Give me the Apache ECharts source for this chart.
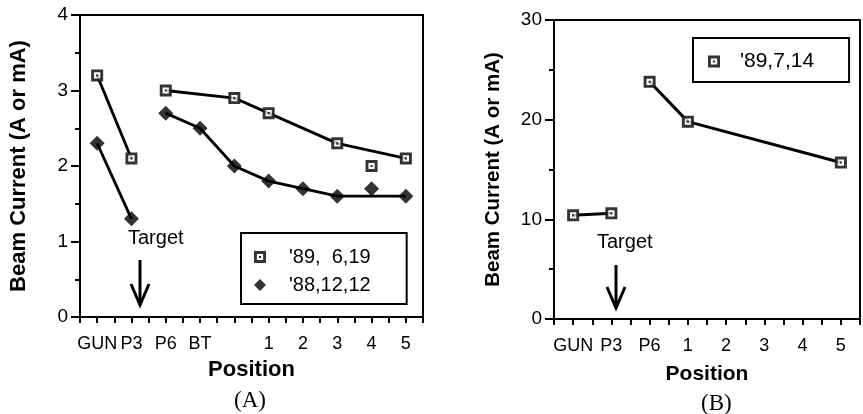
<!DOCTYPE html>
<html>
<head>
<meta charset="utf-8">
<script src="https://cdn.jsdelivr.net/npm/echarts@6/dist/echarts.min.js"></script>
<style>
  html, body { margin: 0; padding: 0; background: #fff; }
  #main { width: 863px; height: 414px; }
</style>
</head>
<body>
<div id="main"></div>
<script>
// positions along the beam line
var posA = ['GUN', 'P3', 'P6', 'BT', '', '1', '2', '3', '4', '5'];
var posB = ['GUN', 'P3', 'P6', '1', '2', '3', '4', '5'];

// beam current readings (null = not measured)
var curJun89 = [3.2, 2.1, 3.0, null, 2.9, 2.7, null, 2.3, 2.0, 2.1];
var curDec88 = [2.3, 1.3, 2.7, 2.5, 2.0, 1.8, 1.7, 1.6, 1.7, 1.6];
var curJul89 = [10.4, 10.6, 23.8, 19.8, null, null, null, 15.7];

// which points are joined by a line
var runsJun89 = [[0, 1], [2, 4, 5, 7, 9]];
var runsDec88 = [[0, 1], [2, 3, 4, 5, 6, 7, 9]];
var runsJul89 = [[0, 1], [2, 3, 7]];

// y axis ranges
var yTicksA = [0, 1, 2, 3, 4];
var yTicksB = [0, 10, 20, 30];

var FONT = 'Liberation Sans';
var boxSym = 'path://M0,0H10V10H0ZM2.4,2.4V7.6H7.6V2.4ZM4.1,4.1H5.9V5.9H4.1Z';

var myChart = echarts.init(document.getElementById('main'));

function points(vals) {
    var out = [];
    vals.forEach(function (v, i) { if (v != null) out.push([i, v]); });
    return out;
}

function lines(vals, runs, axis, width) {
    return runs.map(function (run) {
        return {
            type: 'line', xAxisIndex: axis, yAxisIndex: axis,
            data: run.map(function (i) { return [i, vals[i]]; }),
            symbol: 'none', silent: true, z: 2,
            lineStyle: { color: '#000', width: width }
        };
    });
}

function boxes(name, vals, axis) {
    return [
        { // white fill behind the open squares
            type: 'scatter', xAxisIndex: axis, yAxisIndex: axis,
            data: points(vals), symbol: 'rect', symbolSize: 11, z: 3,
            itemStyle: { color: '#fff' }, silent: true
        },
        {
            name: name, type: 'scatter', xAxisIndex: axis, yAxisIndex: axis,
            data: points(vals), symbol: boxSym, symbolSize: 12, z: 4,
            itemStyle: { color: '#000' }
        }
    ];
}

function xAxis(idx, labels) {
    return {
        gridIndex: idx, type: 'value',
        min: -0.5, max: labels.length - 0.5, interval: 0.5,
        name: 'Position', nameLocation: 'middle', nameGap: idx == 0 ? 42 : 45,
        nameTextStyle: { fontFamily: FONT, fontWeight: 'bold', fontSize: idx == 0 ? 22 : 21, color: '#000' },
        axisLine: { onZero: false, lineStyle: { color: '#000', width: 2 } },
        axisTick: { show: true, length: 6, lineStyle: { color: '#000', width: 2 } },
        splitLine: { show: false },
        axisLabel: {
            margin: 18, fontFamily: FONT, fontSize: 18, color: '#000',
            formatter: function (v) {
                return Number.isInteger(v) ? labels[v] : '';
            }
        }
    };
}

function yAxis(idx, ticks) {
    return {
        gridIndex: idx, type: 'value',
        min: ticks[0], max: ticks[ticks.length - 1], interval: ticks[1] - ticks[0],
        name: 'Beam Current (A or mA)', nameLocation: 'middle', nameGap: 50,
        nameTextStyle: { fontFamily: FONT, fontWeight: 'bold', fontSize: idx == 0 ? 22 : 20.5, color: '#000' },
        axisLine: { onZero: false, lineStyle: { color: '#000', width: 2 } },
        axisTick: { show: true, length: 9, lineStyle: { color: '#000', width: 2 } },
        minorTick: { show: true, splitNumber: 2, length: 5, lineStyle: { color: '#000', width: 2 } },
        splitLine: { show: false },
        axisLabel: { margin: 12, fontFamily: FONT, fontSize: 19, color: '#000' }
    };
}

function arrow(x, y1, y2) {
    return [
        { type: 'line', shape: { x1: x, y1: y1, x2: x, y2: y2 }, style: { stroke: '#000', lineWidth: 3 } },
        { type: 'polyline', shape: { points: [[x - 9, y2 - 21], [x, y2], [x + 9, y2 - 21]] }, style: { stroke: '#000', lineWidth: 3, fill: null } }
    ];
}

var series = [].concat(
    lines(curJun89, runsJun89, 0, 2.8),
    lines(curDec88, runsDec88, 0, 2.8),
    boxes("'89,  6,19", curJun89, 0),
    [{
        name: "'88,12,12", type: 'scatter', xAxisIndex: 0, yAxisIndex: 0,
        data: points(curDec88), symbol: 'diamond', symbolSize: 15, z: 4,
        itemStyle: { color: '#000' }
    }],
    lines(curJul89, runsJul89, 1, 3),
    boxes("'89,7,14", curJul89, 1)
);

var legendText = { fontFamily: FONT, fontSize: 20, color: '#000', padding: [0, 0, 0, 18] };

option = {
    animation: false,
    backgroundColor: '#fff',
    grid: [
        { left: 80, top: 15, width: 343, height: 302, show: true, borderColor: '#000', borderWidth: 2 },
        { left: 554, top: 20, width: 307, height: 299, show: true, borderColor: '#000', borderWidth: 2 }
    ],
    xAxis: [xAxis(0, posA), xAxis(1, posB)],
    yAxis: [yAxis(0, yTicksA), yAxis(1, yTicksB)],
    legend: [
        {
            data: ["'89,  6,19", "'88,12,12"], orient: 'vertical',
            left: 241, top: 233, itemWidth: 12, itemHeight: 12, itemGap: 8,
            padding: [14, 36, 9, 13], borderColor: '#000', borderWidth: 2, backgroundColor: '#fff',
            textStyle: legendText, selectedMode: false
        },
        {
            data: ["'89,7,14"], orient: 'vertical',
            left: 693, top: 38, itemWidth: 12, itemHeight: 12,
            padding: [13, 35, 10, 15], borderColor: '#000', borderWidth: 2, backgroundColor: '#fff',
            textStyle: { fontFamily: FONT, fontSize: 21, color: '#000', padding: [0, 0, 0, 15] }, selectedMode: false
        }
    ],
    graphic: [].concat(
        [
            { type: 'text', left: 128, top: 228, style: { text: 'Target', fontFamily: FONT, fontSize: 20, fill: '#000' } },
            { type: 'text', left: 597, top: 232, style: { text: 'Target', fontFamily: FONT, fontSize: 20, fill: '#000' } },
            { type: 'text', left: 234, top: 389, style: { text: '(A)', fontFamily: 'Liberation Serif', fontSize: 23, fill: '#000' } },
            { type: 'text', left: 701, top: 392, style: { text: '(B)', fontFamily: 'Liberation Serif', fontSize: 23, fill: '#000' } }
        ],
        arrow(140, 260, 305),
        arrow(616, 265, 308)
    ),
    series: series
};

myChart.setOption(option);
</script>
</body>
</html>
